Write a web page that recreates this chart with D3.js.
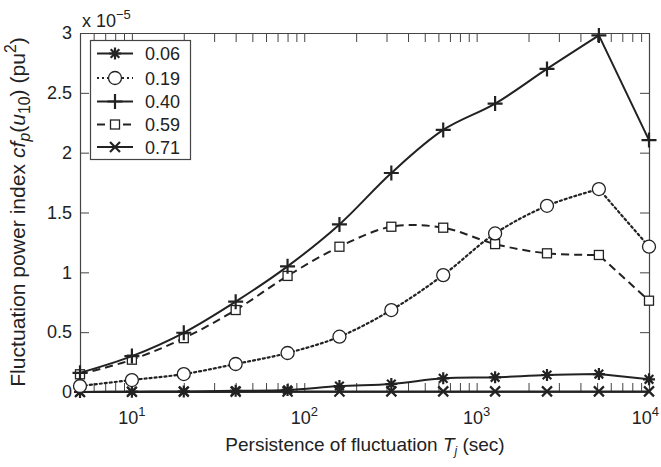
<!DOCTYPE html>
<html><head><meta charset="utf-8">
<script src="https://cdn.jsdelivr.net/npm/d3@7"></script>
<style>body{margin:0;background:#fff}svg{display:block}text{font-family:"Liberation Sans",Arial,sans-serif;fill:#222}</style>
</head><body><svg id="c" width="661" height="467"></svg>
<script>
const persistence = [5, 10, 20, 40, 80, 160, 320, 640, 1280, 2560, 5120, 10000];
const labels = ["0.06", "0.19", "0.40", "0.59", "0.71"];
const s006 = [0.0, 0.003, 0.005, 0.01, 0.017, 0.05, 0.067, 0.114, 0.123, 0.142, 0.15, 0.106];
const s019 = [0.05, 0.10, 0.15, 0.234, 0.326, 0.462, 0.685, 0.977, 1.325, 1.556, 1.696, 1.214];
const s040 = [0.16, 0.30, 0.495, 0.755, 1.05, 1.40, 1.83, 2.19, 2.41, 2.70, 2.98, 2.105];
const s059 = [0.148, 0.27, 0.45, 0.685, 0.97, 1.214, 1.381, 1.373, 1.236, 1.159, 1.145, 0.763];
const s071 = [0.0, 0.002, 0.003, 0.003, 0.004, 0.004, 0.005, 0.005, 0.005, 0.005, 0.005, 0.005];
const yTicks = [0, 0.5, 1, 1.5, 2, 2.5, 3];
const xMinor = [6,7,8,9,10,20,30,40,50,60,70,80,90,100,200,300,400,500,600,700,800,900,1000,2000,3000,4000,5000,6000,7000,8000,9000,10000];
const xDecades = [10, 100, 1000, 10000];

const seriesList = [s006, s019, s040, s059, s071];
const markers = ["asterisk", "circle", "plus", "square", "cross"];
const dashes = [null, "2,3", null, "8,5", null];

const svg = d3.select("#c");
const L = 80, R = 649, T = 33, B = 392;
const x = d3.scaleLog().domain([5, 10000]).range([L, R]);
const y = d3.scaleLinear().domain([0, 3]).range([B, T]);
const ink = "#222", axc = "#444";
const FF = '"Liberation Sans",Arial,sans-serif';

// axes
const tick = 9;
const gB = svg.append("g").attr("transform", `translate(0,${B})`)
  .call(d3.axisBottom(x).tickValues(xMinor).tickSizeInner(-tick).tickSizeOuter(0).tickFormat(""));
const gT = svg.append("g").attr("transform", `translate(0,${T})`)
  .call(d3.axisTop(x).tickValues(xMinor).tickSizeInner(-tick).tickSizeOuter(0).tickFormat(""));
const gL = svg.append("g").attr("transform", `translate(${L},0)`)
  .call(d3.axisLeft(y).tickValues(yTicks).tickSizeInner(-tick).tickSizeOuter(0).tickPadding(8).tickFormat(d => d3.format("")(d)));
const gR = svg.append("g").attr("transform", `translate(${R},0)`)
  .call(d3.axisRight(y).tickValues(yTicks).tickSizeInner(-tick).tickSizeOuter(0).tickFormat(""));
[gB, gT, gL, gR].forEach(g => {
  g.selectAll("path.domain").attr("stroke", axc).attr("stroke-width", 1.2);
  g.selectAll(".tick line").attr("stroke", axc).attr("stroke-width", 1);
});
gL.selectAll(".tick text").attr("font-size", 18).attr("fill", ink).style("font-family", FF);

// decade labels
const dl = svg.append("g");
xDecades.forEach(d => {
  const last = d === 10000;
  const t = dl.append("text").attr("x", last ? 659 : x(d)).attr("y", 424)
    .attr("text-anchor", last ? "end" : "middle").attr("font-size", 18);
  t.append("tspan").text("10");
  t.append("tspan").attr("dy", -8).attr("font-size", 13).text(Math.round(Math.log10(d)));
});

// exponent label
const ex = svg.append("text").attr("x", 82).attr("y", 27).attr("font-size", 18);
ex.append("tspan").text("x 10");
ex.append("tspan").attr("dy", -8).attr("font-size", 13).text("\u22125");

// x axis title
const xt = svg.append("text").attr("x", 365).attr("y", 451).attr("text-anchor", "middle").attr("font-size", 16);
xt.append("tspan").text("Persistence of fluctuation ");
xt.append("tspan").attr("font-style", "italic").text("T");
xt.append("tspan").attr("font-style", "italic").attr("dy", 4).attr("font-size", 12).text("j");
xt.append("tspan").attr("dy", -4).text(" (sec)");
{ const w = xt.node().getBBox().width; xt.attr("font-size", 16 * 280 / w); }

// y axis title
const yt = svg.append("text").attr("transform", "translate(25,212) rotate(-90)").attr("text-anchor", "middle").attr("font-size", 16);
yt.append("tspan").text("Fluctuation power index ");
yt.append("tspan").attr("font-style", "italic").text("cf");
yt.append("tspan").attr("font-style", "italic").attr("dy", 4).attr("font-size", 12).text("p");
yt.append("tspan").attr("dy", -4).text("(");
yt.append("tspan").attr("font-style", "italic").text("u");
yt.append("tspan").attr("dy", 4).attr("font-size", 12).text("10");
yt.append("tspan").attr("dy", -4).text(") (pu");
yt.append("tspan").attr("dy", -7).attr("font-size", 12).text("2");
yt.append("tspan").attr("dy", 7).text(")");
{ const w = yt.node().getBBox().width; const k = Math.min(350 / w, 1.4);
  yt.attr("font-size", 16 * k);
  yt.selectAll("tspan").each(function() {
    const s = d3.select(this);
    if (s.attr("font-size")) s.attr("font-size", +s.attr("font-size") * k);
    if (s.attr("dy")) s.attr("dy", +s.attr("dy") * k);
  });
}

// marker drawing
function drawMarker(g, type, cx, cy) {
  const m = g.append("g").attr("transform", `translate(${cx},${cy})`);
  if (type === "asterisk") {
    const r = 6;
    m.append("path").attr("d", `M${-r},0H${r}M0,${-r}V${r}M${-r*0.72},${-r*0.72}L${r*0.72},${r*0.72}M${-r*0.72},${r*0.72}L${r*0.72},${-r*0.72}`)
      .attr("stroke", ink).attr("stroke-width", 2.2).attr("fill", "none");
  } else if (type === "circle") {
    m.append("circle").attr("r", 6.5).attr("fill", "#fff").attr("stroke", ink).attr("stroke-width", 1.3);
  } else if (type === "plus") {
    const r = 7.5;
    m.append("path").attr("d", `M${-r},0H${r}M0,${-r}V${r}`).attr("stroke", ink).attr("stroke-width", 2.2).attr("fill", "none");
  } else if (type === "square") {
    m.append("rect").attr("x", -4.5).attr("y", -4.5).attr("width", 9).attr("height", 9).attr("fill", "#fff").attr("stroke", ink).attr("stroke-width", 1.3);
  } else if (type === "cross") {
    const r = 5;
    m.append("path").attr("d", `M${-r},${-r}L${r},${r}M${-r},${r}L${r},${-r}`).attr("stroke", ink).attr("stroke-width", 2.2).attr("fill", "none");
  }
}

const smooth = d3.line().x(d => x(d[0])).y(d => y(d[1])).curve(d3.curveCatmullRom.alpha(0.5));
function pathFor(data) {
  const head = data.slice(0, data.length - 1);
  const last = data[data.length - 1];
  return smooth(head) + `L${x(last[0])},${y(last[1])}`;
}
const order = [4, 0, 3, 1, 2];
order.forEach(i => {
  const data = persistence.map((p, k) => [p, seriesList[i][k]]);
  const g = svg.append("g");
  g.append("path").attr("d", pathFor(data)).attr("fill", "none").attr("stroke", ink)
    .attr("stroke-width", i === 1 ? 2.2 : 2).attr("stroke-dasharray", dashes[i]).attr("stroke-linecap", i === 1 ? "round" : "butt");
  data.forEach(d => drawMarker(g, markers[i], x(d[0]), y(d[1])));
});

// legend
const lg = svg.append("g");
lg.append("rect").attr("x", 90.5).attr("y", 40.5).attr("width", 100).attr("height", 119).attr("fill", "#fff").attr("stroke", axc).attr("stroke-width", 1.2);
const ly = [53.5, 78, 101.5, 124.5, 147];
labels.forEach((lab, i) => {
  lg.append("line").attr("x1", 97).attr("x2", 133).attr("y1", ly[i]).attr("y2", ly[i]).attr("stroke", ink)
    .attr("stroke-width", 2).attr("stroke-dasharray", dashes[i]);
  drawMarker(lg, markers[i], 115, ly[i]);
  lg.append("text").attr("x", 145).attr("y", ly[i] + 6.5).attr("font-size", 18).text(lab);
});
</script></body></html>
